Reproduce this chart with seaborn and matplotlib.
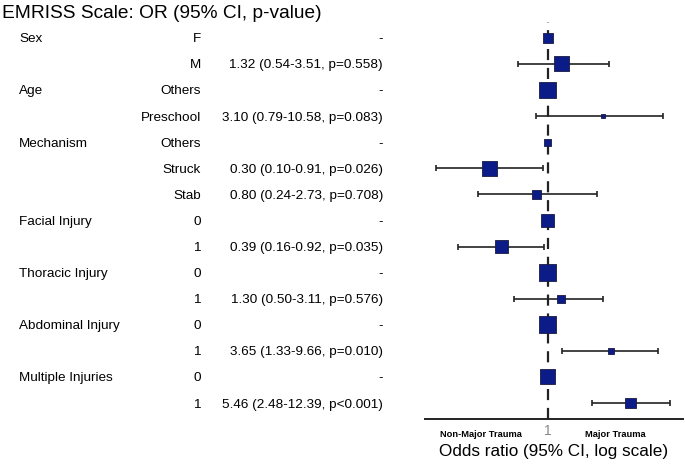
import numpy as np
import pandas as pd
import matplotlib
matplotlib.use("Agg")
import matplotlib.pyplot as plt
import seaborn as sns

# data
groups = ["Sex", "", "Age", "", "Mechanism", "", "", "Facial Injury", "",
          "Thoracic Injury", "", "Abdominal Injury", "", "Multiple Injuries", ""]
levels = ["F", "M", "Others", "Preschool", "Others", "Struck", "Stab",
          "0", "1", "0", "1", "0", "1", "0", "1"]
odds = [1, 1.32, 1, 3.10, 1, 0.30, 0.80, 1, 0.39, 1, 1.30, 1, 3.65, 1, 5.46]
ci_low = [np.nan, 0.54, np.nan, 0.79, np.nan, 0.10, 0.24, np.nan, 0.16,
          np.nan, 0.50, np.nan, 1.33, np.nan, 2.48]
ci_high = [np.nan, 3.51, np.nan, 10.58, np.nan, 0.91, 2.73, np.nan, 0.92,
           np.nan, 3.11, np.nan, 9.66, np.nan, 12.39]
p_text = ["", "p=0.558", "", "p=0.083", "", "p=0.026", "p=0.708", "",
          "p=0.035", "", "p=0.576", "", "p=0.010", "", "p<0.001"]
# relative weight of each row (drives the square size)
weight = [33, 75, 96, 5, 16, 75, 27, 56, 56, 96, 21, 96, 12, 75, 40]

df = pd.DataFrame({"group": groups, "level": levels, "odds": odds,
                   "low": ci_low, "high": ci_high, "p": p_text, "weight": weight})
df["row"] = np.arange(len(df))

sns.set_style("white")
plt.rcParams["font.family"] = ["Liberation Sans", "DejaVu Sans"]
plt.rcParams["text.color"] = "black"
plt.rcParams["axes.labelcolor"] = "black"

fig = plt.figure(figsize=(6.85, 4.66), dpi=100)
ax = fig.add_axes([0.620, 0.101, 0.377, 0.852])

# confidence intervals
ci = df.dropna(subset=["low"])
ax.errorbar(ci["odds"], ci["row"],
            xerr=[ci["odds"] - ci["low"], ci["high"] - ci["odds"]],
            fmt="none", ecolor="#222222", elinewidth=1.2, capsize=2, capthick=1.2,
            zorder=2)

ax.axvline(1, color="#222222", lw=1.6, ls=(0, (5, 3.5)), zorder=1)

sns.scatterplot(data=df, x="odds", y="row", size="weight", sizes=(7.8, 149),
                size_norm=(5, 96), marker="s", color="#0b1c88",
                edgecolor="#1a1a40", linewidth=0.6, legend=False, ax=ax, zorder=3)

ax.set_xscale("log")
ax.set_xlim(0.08, 16)
ax.set_ylim(14.61, -0.61)
ax.set_yticks([])
ax.set_xticks([1])
ax.set_xticklabels(["1"], color="#888888", fontsize=10)
ax.xaxis.set_minor_locator(matplotlib.ticker.NullLocator())
ax.tick_params(axis="x", length=0, pad=4)
ax.set_xlabel("Odds ratio (95% CI, log scale)", fontsize=12.3, labelpad=4)
ax.set_ylabel("")
for side in ["top", "right", "left"]:
    ax.spines[side].set_visible(False)
ax.spines["bottom"].set_color("#222222")
ax.spines["bottom"].set_linewidth(1.4)

ax.text(0.217, -0.027, "Non-Major Trauma", transform=ax.transAxes, ha="center",
        va="top", fontsize=6.7, fontweight="bold")
ax.text(0.74, -0.027, "Major Trauma", transform=ax.transAxes, ha="center",
        va="top", fontsize=6.7, fontweight="bold")

# text table on the left
tr = matplotlib.transforms.blended_transform_factory(fig.transFigure, ax.transData)
for _, r in df.iterrows():
    if r["group"]:
        ax.text(19 / 685, r["row"], r["group"], transform=tr, ha="left",
                va="center_baseline", fontsize=9.7, clip_on=False)
    ax.text(201 / 685, r["row"], r["level"], transform=tr, ha="right",
            va="center_baseline", fontsize=9.7, clip_on=False)
    if np.isnan(r["low"]):
        label = "-"
    else:
        label = f"{r['odds']:.2f} ({r['low']:.2f}-{r['high']:.2f}, {r['p']})"
    ax.text(383 / 685, r["row"], label, transform=tr, ha="right",
            va="center_baseline", fontsize=9.7, clip_on=False)

fig.text(2 / 685, 1 - 13 / 466, "EMRISS Scale: OR (95% CI, p-value)",
         ha="left", va="center", fontsize=13.8)

fig.savefig("out.png", dpi=100)
